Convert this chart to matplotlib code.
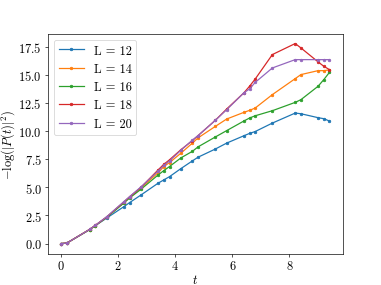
import matplotlib
matplotlib.use("Agg")
import matplotlib.pyplot as plt

# ------------------------------------------------------------------------
# Data
# ------------------------------------------------------------------------
t = [0, 0.2, 1.0, 1.2, 1.6, 2.2, 2.4, 2.8, 3.4, 3.6, 3.8, 4.2, 4.6, 4.8,
     5.4, 5.8, 6.4, 6.6, 6.8, 7.4, 8.2, 8.4, 9.0, 9.2, 9.4]

sizes = [12, 14, 16, 18, 20]

loss_l12 = [0, 0.04, 1.23, 1.59, 2.27, 3.28, 3.64, 4.32, 5.37, 5.66, 5.95, 6.67,
            7.35, 7.68, 8.40, 8.93, 9.58, 9.79, 9.96, 10.71, 11.60, 11.54, 11.19,
            11.10, 10.89]
loss_l14 = [0, 0.04, 1.25, 1.60, 2.35, 3.65, 4.10, 4.95, 6.30, 6.85, 7.20, 8.04,
            8.93, 9.40, 10.41, 11.07, 11.66, 11.84, 12.05, 13.24, 14.66, 15.02,
            15.37, 15.37, 15.44]
loss_l16 = [0, 0.04, 1.25, 1.60, 2.33, 3.60, 4.05, 4.83, 6.10, 6.49, 6.85, 7.62,
            8.20, 8.60, 9.47, 10.04, 10.89, 11.16, 11.36, 11.81, 12.55, 12.79,
            13.98, 14.57, 15.22]
loss_l18 = [0, 0.04, 1.26, 1.62, 2.37, 3.70, 4.15, 5.00, 6.55, 7.05, 7.45, 8.35,
            9.15, 9.60, 10.95, 11.96, 13.39, 13.98, 14.63, 16.80, 17.78, 17.39,
            16.15, 15.76, 15.46]
loss_l20 = [0, 0.04, 1.26, 1.62, 2.39, 3.73, 4.17, 5.04, 6.45, 6.95, 7.35, 8.30,
            9.20, 9.60, 10.95, 11.90, 13.39, 13.74, 14.33, 15.61, 16.35, 16.35,
            16.35, 16.35, 16.35]

series = [loss_l12, loss_l14, loss_l16, loss_l18, loss_l20]

# ------------------------------------------------------------------------
# Plot
# ------------------------------------------------------------------------
plt.rcParams['font.family'] = 'serif'
plt.rcParams['font.serif'] = ['cmr10']
plt.rcParams['mathtext.fontset'] = 'cm'
plt.rcParams['axes.formatter.use_mathtext'] = True
plt.rcParams['font.size'] = 15

fig, ax = plt.subplots(figsize=(6.4, 4.8), dpi=381 / 6.4)

for L, vals in zip(sizes, series):
    ax.plot(t, vals, marker='.', label=f"L = {L}")

ax.set_xlabel(r'$t$', fontsize=15, labelpad=1)
ax.set_ylabel(r'$-\log(|P(t)|^2)$', fontsize=15, labelpad=1)
ax.legend(loc='upper left')

fig.savefig('out.png', dpi=381 / 6.4)
